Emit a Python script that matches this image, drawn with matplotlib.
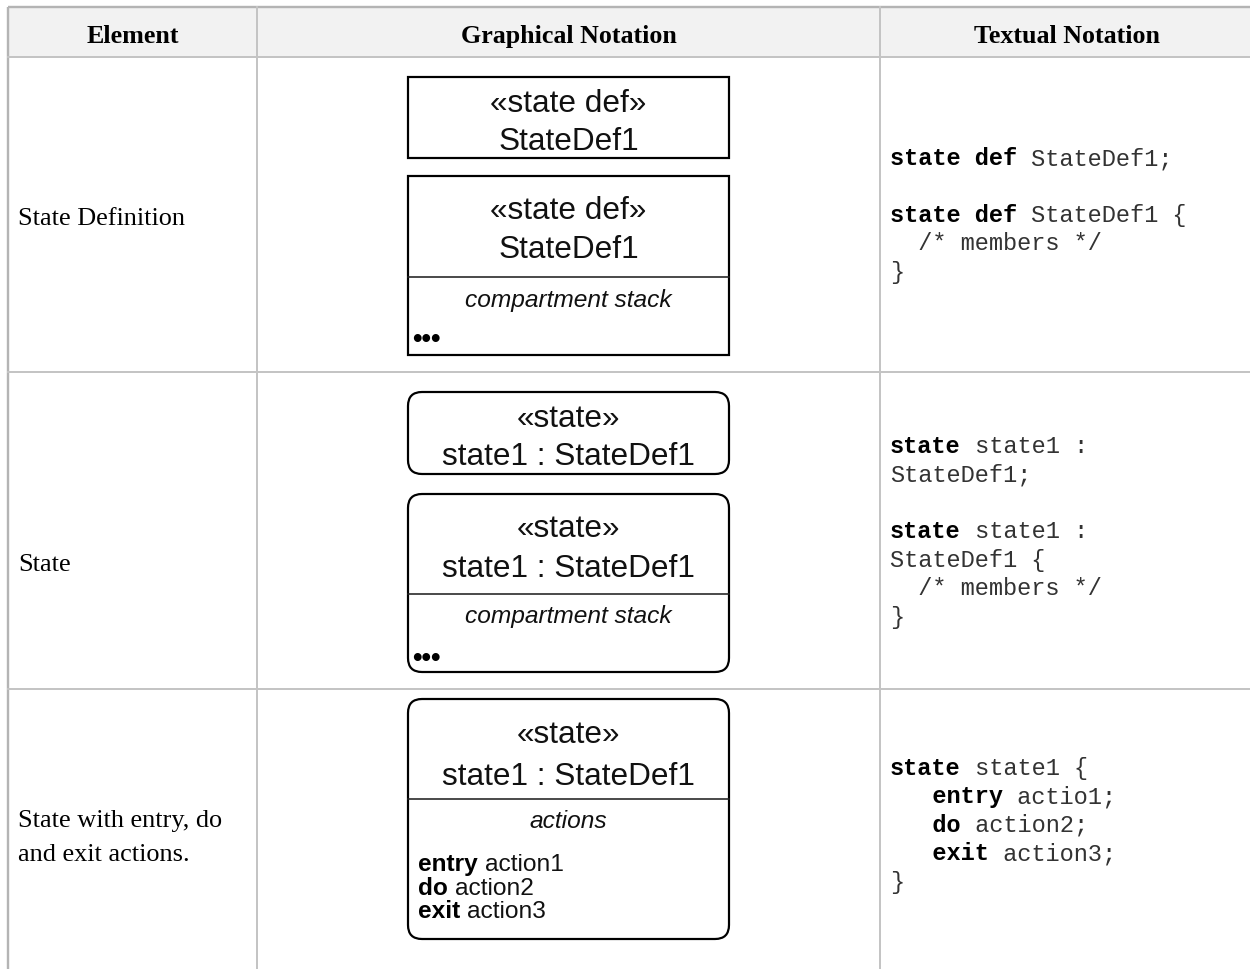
import matplotlib
matplotlib.use("Agg")
import matplotlib.pyplot as plt
from matplotlib.patches import Rectangle, FancyBboxPatch

# ---------------- data (text content of the table) ----------------
headers = ["Element", "Graphical Notation", "Textual Notation"]
element_names = [["State Definition"], ["State"], ["State with entry, do", "and exit actions."]]

# graphical notation boxes: stereotype, name, compartment label, compartment lines
box_stereotypes = ["«state def»", "«state def»", "«state»", "«state»", "«state»"]
box_names = ["StateDef1", "StateDef1", "state1 : StateDef1", "state1 : StateDef1", "state1 : StateDef1"]
box_compartments = [None, "compartment stack", None, "compartment stack", "actions"]
box_rounded = [False, False, True, True, True]
action_keywords = ["entry", "do", "exit"]
action_names = ["action1", "action2", "action3"]

# textual notation: each line is a list of (text, bold) segments
code_rows = [
    [[("state def", True), (" StateDef1;", False)],
     [],
     [("state def", True), (" StateDef1 {", False)],
     [("  /* members */", False)],
     [("}", False)]],
    [[("state", True), (" state1 :", False)],
     [("StateDef1;", False)],
     [],
     [("state", True), (" state1 :", False)],
     [("StateDef1 {", False)],
     [("  /* members */", False)],
     [("}", False)]],
    [[("state", True), (" state1 {", False)],
     [("   entry", True), (" actio1;", False)],
     [("   do", True), (" action2;", False)],
     [("   exit", True), (" action3;", False)],
     [("}", False)]],
]

# ---------------- layout (pixel coordinates) ----------------
W, H = 1250, 970
fig = plt.figure(figsize=(W / 100, H / 100), dpi=100)
ax = fig.add_axes([0, 0, 1, 1])
ax.set_xlim(0, W)
ax.set_ylim(H, 0)
ax.axis("off")

def pt(px):
    return px * 72 / 100

SERIF = "Liberation Serif"
SANS = "Liberation Sans"
MONO = "Liberation Mono"

left, top = 8, 8
col_x = [257, 880]
header_bottom = 57.5
row_lines = [373, 690]
grid_outer = "#b4b4b4"
grid_inner = "#c4c4c4"

ax.add_patch(Rectangle((left, top), W - left, header_bottom - top, facecolor="#f2f2f2",
                       edgecolor="none", zorder=0))
ax.plot([left, W], [top, top], color=grid_outer, lw=pt(2.4), solid_capstyle="butt", zorder=1)
ax.plot([left, left], [top, H], color=grid_outer, lw=pt(2.4), solid_capstyle="butt", zorder=1)
ax.plot([left, W], [header_bottom, header_bottom], color=grid_inner, lw=pt(2), zorder=1)
for cx in col_x:
    ax.plot([cx, cx], [top, H], color=grid_inner, lw=pt(2), zorder=1)
for ry in row_lines:
    ax.plot([left, W], [ry, ry], color=grid_inner, lw=pt(2), zorder=1)

# header
header_x = [132.5, 568.5, 1067]
for hx, txt in zip(header_x, headers):
    ax.text(hx, 43, txt, family=SERIF, weight="bold", fontsize=pt(26), ha="center",
            va="baseline", color="black")

# element column
elem_baselines = [[225], [571], [827, 861]]
for lines, bls in zip(element_names, elem_baselines):
    for ln, bl in zip(lines, bls):
        ax.text(18, bl, ln, family=SERIF, fontsize=pt(26.3), ha="left", va="baseline",
                color="black")

# graphical boxes
bx0, bx1 = 408, 729
bcx = (bx0 + bx1) / 2
box_top = [78, 177, 393, 495, 700]
box_bottom = [159, 356, 475, 673, 940]
box_divider = [None, 278, None, 595, 800]
stereo_bl = [112, 219, 427, 537, 743]
name_bl = [150, 258, 465, 577, 785]
comp_bl = [None, 307, None, 623, 828]
bullet_bl = [None, 347, None, 666, None]
action_bl = [871, 895, 918]

title_fs = pt(31.5)
small_fs = pt(24.5)

renderer = fig.canvas.get_renderer()

for i in range(5):
    y0, y1 = box_top[i], box_bottom[i]
    if box_rounded[i]:
        patch = FancyBboxPatch((bx0, y0), bx1 - bx0, y1 - y0,
                               boxstyle="round,pad=0,rounding_size=14",
                               facecolor="white", edgecolor="black", lw=pt(2.2), zorder=2)
    else:
        patch = Rectangle((bx0, y0), bx1 - bx0, y1 - y0, facecolor="white",
                          edgecolor="black", lw=pt(2.2), zorder=2)
    ax.add_patch(patch)
    if box_divider[i] is not None:
        ax.plot([bx0, bx1], [box_divider[i]] * 2, color="#222222", lw=pt(1.6), zorder=3)
    ax.text(bcx, stereo_bl[i], box_stereotypes[i], family=SANS, fontsize=title_fs,
            ha="center", va="baseline", color="#111111", zorder=4)
    ax.text(bcx, name_bl[i], box_names[i], family=SANS, fontsize=title_fs,
            ha="center", va="baseline", color="#111111", zorder=4)
    if box_compartments[i] is not None:
        ax.text(bcx, comp_bl[i], box_compartments[i], family=SANS, style="italic",
                fontsize=small_fs, ha="center", va="baseline", color="#111111", zorder=4)
    if bullet_bl[i] is not None:
        ax.text(412, bullet_bl[i], "•••", family=SANS, weight="bold", fontsize=pt(27),
                ha="left", va="baseline", color="black", zorder=4)

# action lines in last box
space_w = 0.278 * small_fs * 100 / 72
for kw, nm, bl in zip(action_keywords, action_names, action_bl):
    t = ax.text(418, bl, kw, family=SANS, weight="bold", fontsize=small_fs, ha="left",
                va="baseline", color="black", zorder=4)
    wpx = t.get_window_extent(renderer=renderer).width
    ax.text(418 + wpx + space_w, bl, nm, family=SANS, fontsize=small_fs, ha="left",
            va="baseline", color="#111111", zorder=4)

# textual notation
mono_fs = pt(23.6)
adv = 0.6 * 23.6
code_x = 890
code_start = [165, 453, 775]
code_step = 28.5
for rows, y_start in zip(code_rows, code_start):
    for li, segs in enumerate(rows):
        y = y_start + li * code_step
        col = 0
        for txt, bold in segs:
            ax.text(code_x + col * adv, y, txt, family=MONO,
                    weight="bold" if bold else "normal", fontsize=mono_fs, ha="left",
                    va="baseline", color="black" if bold else "#333333")
            col += len(txt)

fig.savefig("out.png", dpi=100, facecolor="white")
